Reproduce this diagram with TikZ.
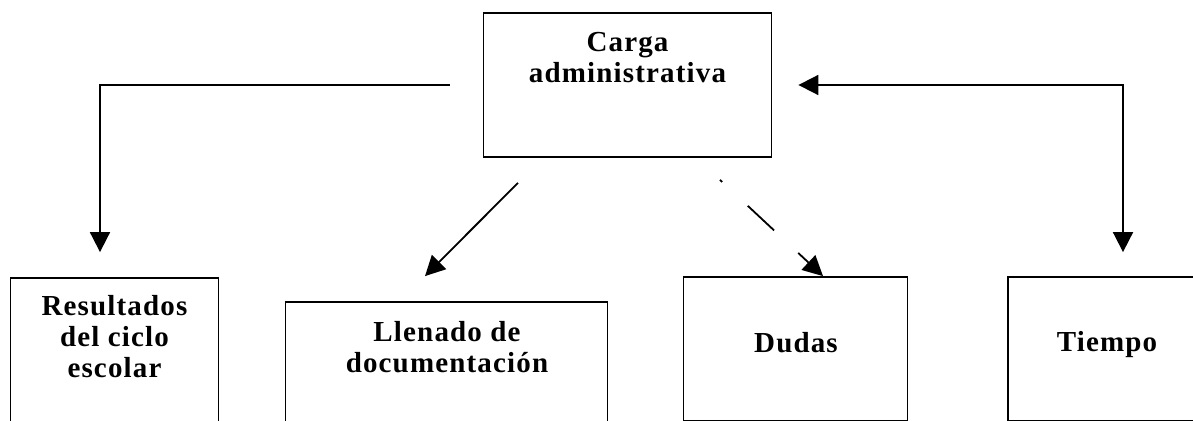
\documentclass[tikz,border=0pt]{standalone}
\usepackage{fontspec}
\newfontfamily\boxfont{Liberation Serif}[LetterSpace=4]
\usetikzlibrary{arrows.meta}

\begin{document}
\begin{tikzpicture}[x=1pt,y=-1pt,
    box/.style={draw, line width=1.8pt, inner sep=0pt, minimum height=144pt},
    lbl/.style={font=\boxfont\bfseries\fontsize{29}{31}\selectfont, align=center, inner sep=0pt, anchor=base},
    arr/.style={line width=1.8pt, -{Triangle[length=20pt,width=20pt]}}]

    \useasboundingbox (0,0) rectangle (1193,420);
    \clip (0,0) rectangle (1193,420);

    % Top box
    \node[box, minimum width=288pt] (carga) at (627.5,85) {};
    \node[lbl] (carga-txt) at (627.5,82) {Carga\\administrativa};

    % Lower boxes
    \node[box, minimum width=208pt] (result) at (114.5,350) {};
    \node[lbl] (result-txt) at (114.5,377) {Resultados\\del ciclo\\escolar};

    \node[box, minimum width=322pt] (llenado) at (446.5,374) {};
    \node[lbl] (llenado-txt) at (447,372) {Llenado de\\documentación};

    \node[box, minimum width=224pt] (dudas) at (795.5,349) {};
    \node[lbl] (dudas-txt) at (796,352) {Dudas};

    \node[box, minimum width=198pt] (tiempo) at (1107,349) {};
    \node[lbl] (tiempo-txt) at (1107,351) {Tiempo};

    % Connectors
    \draw[arr, shorten <=33pt, shorten >=25pt] (carga.west) -| ([xshift=-14.5pt]result.north);
    \draw[arr, {Triangle[length=20pt,width=20pt]}-{Triangle[length=20pt,width=20pt]}, shorten <=26pt, shorten >=24pt]
        (carga.east) -| ([xshift=16pt]tiempo.north);
    \draw[arr] ([shift={(-109.5,25)}]carga.south) -- ([shift={(-21.5,-25)}]llenado.north);
    \draw[arr, dash pattern=on 3pt off 35pt on 36pt off 33pt on 60pt off 10pt]
        ([shift={(92.5,22)}]carga.south) -- ([xshift=27.5pt]dudas.north);

\end{tikzpicture}
\end{document}
